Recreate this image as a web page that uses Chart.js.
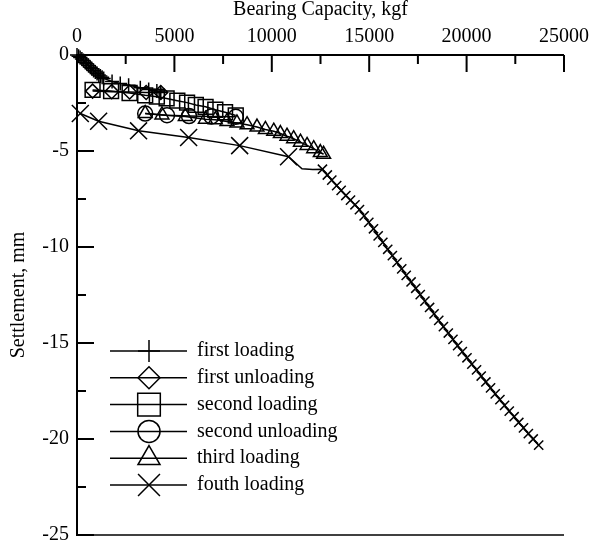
<!DOCTYPE html>
<html><head><meta charset="utf-8">
<script src="https://cdn.jsdelivr.net/npm/chart.js@4.4.0/dist/chart.umd.min.js"></script>
<style>html,body{margin:0;padding:0;background:#fff}canvas{display:block}</style>
</head><body>
<canvas id="c" width="607" height="553"></canvas>
<script>
// ---------- text ----------
const X_TITLE = 'Bearing Capacity, kgf';
const Y_TITLE = 'Settlement, mm';
const SERIES_LABELS = ['first loading', 'first unloading', 'second loading', 'second unloading', 'third loading', 'fouth loading'];

// ---------- ticks ----------
const X_MAJOR_TICKS = [0, 5000, 10000, 15000, 20000, 25000];
const X_MINOR_TICKS = [2500, 7500, 12500, 17500, 22500];
const Y_MAJOR_TICKS = [0, -5, -10, -15, -20, -25];
const Y_MINOR_TICKS = [-2.5, -7.5, -12.5, -17.5, -22.5];

// ---------- data (kgf, mm) ----------
const firstLoadingLoad   = [0, 80, 160, 250, 330, 420, 500, 590, 680, 760, 850, 940, 1030, 1120, 1200, 1290, 1370, 1800, 2220, 2650, 3250, 3680, 4100, 4300];
const firstLoadingSettle = [0, -0.06, -0.13, -0.21, -0.29, -0.38, -0.46, -0.55, -0.64, -0.72, -0.81, -0.89, -0.97, -1.04, -1.10, -1.16, -1.22, -1.38, -1.48, -1.57, -1.70, -1.80, -1.88, -1.95];

const firstUnloadingLoad   = [4300, 3550, 2700, 1780, 800];
const firstUnloadingSettle = [-1.95, -1.95, -1.93, -1.91, -1.88];

const secondLoadingLoad   = [800, 1750, 2700, 3500, 4100, 4600, 5150, 5650, 6100, 6600, 7100, 7600, 8150];
const secondLoadingSettle = [-1.82, -1.88, -1.98, -2.10, -2.17, -2.26, -2.38, -2.48, -2.60, -2.70, -2.85, -2.98, -3.15];

const secondUnloadingLoad   = [8150, 6900, 5750, 4620, 3500];
const secondUnloadingSettle = [-3.22, -3.20, -3.18, -3.14, -3.05];

const thirdLoadingLoad   = [3500, 4360, 5560, 6590, 7100, 7700, 8210, 8730, 9240, 9670, 10100, 10440, 10780, 11120, 11470, 11810, 12150, 12490, 12660];
const thirdLoadingSettle = [-3.05, -3.12, -3.20, -3.34, -3.37, -3.46, -3.54, -3.63, -3.75, -3.88, -3.97, -4.09, -4.23, -4.36, -4.54, -4.71, -4.88, -5.08, -5.17];

const fourthLoadingLoad = [170, 1110, 3160, 5730, 8350, 10860, 11550, 12100,
  12600, 12850, 13080, 13330, 13560, 13800, 14040, 14270, 14500, 14740, 14980, 15220, 15460, 15700, 15950, 16190,
  16430, 16670, 16900, 17150, 17390, 17620, 17860, 18100, 18330, 18570, 18810, 19060, 19300, 19540, 19780, 20020,
  20270, 20510, 20750, 20990, 21230, 21470, 21710, 21950, 22190, 22440, 22680, 22920, 23170, 23420, 23700];
const fourthLoadingSettle = [-3.05, -3.45, -3.95, -4.30, -4.72, -5.30, -5.93, -5.96,
  -5.95, -6.25, -6.52, -6.80, -7.05, -7.32, -7.56, -7.80, -8.05, -8.38, -8.72, -9.05, -9.42, -9.76, -10.12, -10.45,
  -10.80, -11.14, -11.48, -11.82, -12.15, -12.48, -12.82, -13.15, -13.48, -13.82, -14.15, -14.48, -14.81, -15.14, -15.45, -15.77,
  -16.10, -16.40, -16.72, -17.03, -17.34, -17.65, -17.95, -18.25, -18.55, -18.84, -19.14, -19.42, -19.72, -20.00, -20.32];
const FOURTH_LARGE_MARKER_COUNT = 6;
const FOURTH_UNMARKED_POINTS = [6, 7];

// ---------- styling ----------
const FONT_FAMILY = "'Liberation Serif', 'Times New Roman', Times, serif";
const POINT_STYLES = ['cross', 'rectRot', 'rect', 'circle', 'triangle', 'crossRot'];
const POINT_RADII = [7, 7, 10.5, 7.5, 8, 12];
const SMALL_CROSS_RADIUS = 6.5;
const LEGEND_RADII = [11, 11, 16, 11, 12.7, 15.5];

function pts(xs, ys) { return xs.map((x, i) => ({x: x, y: ys[i]})); }

const series = [
  pts(firstLoadingLoad, firstLoadingSettle),
  pts(firstUnloadingLoad, firstUnloadingSettle),
  pts(secondLoadingLoad, secondLoadingSettle),
  pts(secondUnloadingLoad, secondUnloadingSettle),
  pts(thirdLoadingLoad, thirdLoadingSettle),
  pts(fourthLoadingLoad, fourthLoadingSettle)
];

function fourthRadius(c) {
  if (c.dataIndex < FOURTH_LARGE_MARKER_COUNT) return POINT_RADII[5];
  if (FOURTH_UNMARKED_POINTS.includes(c.dataIndex)) return 0;
  return SMALL_CROSS_RADIUS;
}

const datasets = series.map((d, i) => ({
  label: SERIES_LABELS[i],
  data: d,
  showLine: true,
  borderColor: '#000',
  borderWidth: 1.5,
  backgroundColor: 'rgba(0,0,0,0)',
  pointStyle: POINT_STYLES[i],
  pointBorderColor: '#000',
  pointBackgroundColor: 'rgba(0,0,0,0)',
  pointBorderWidth: 1.5,
  pointRadius: i === 5 ? fourthRadius : POINT_RADII[i],
  pointHoverRadius: POINT_RADII[i],
  tension: 0,
  clip: false
}));

function drawMarker(ctx, style, x, y, r) {
  ctx.beginPath();
  if (style === 'cross') {
    ctx.moveTo(x, y - r); ctx.lineTo(x, y + r);
    ctx.moveTo(x - r, y); ctx.lineTo(x + r, y);
  } else if (style === 'crossRot') {
    const o = r * Math.SQRT1_2;
    ctx.moveTo(x - o, y - o); ctx.lineTo(x + o, y + o);
    ctx.moveTo(x + o, y - o); ctx.lineTo(x - o, y + o);
  } else if (style === 'rect') {
    const s = r * Math.SQRT1_2;
    ctx.rect(x - s, y - s, 2 * s, 2 * s);
  } else if (style === 'rectRot') {
    ctx.moveTo(x - r, y); ctx.lineTo(x, y - r); ctx.lineTo(x + r, y); ctx.lineTo(x, y + r); ctx.closePath();
  } else if (style === 'circle') {
    ctx.arc(x, y, r, 0, Math.PI * 2);
  } else if (style === 'triangle') {
    ctx.moveTo(x, y - r);
    ctx.lineTo(x + r * Math.sin(2 * Math.PI / 3), y - r * Math.cos(2 * Math.PI / 3));
    ctx.lineTo(x + r * Math.sin(4 * Math.PI / 3), y - r * Math.cos(4 * Math.PI / 3));
    ctx.closePath();
  }
  ctx.stroke();
}

const framePlugin = {
  id: 'frame',
  afterDraw(chart) {
    const {ctx, chartArea: a, scales: {x, y}} = chart;
    ctx.save();
    ctx.strokeStyle = '#000';
    ctx.lineCap = 'butt';
    ctx.lineWidth = 2;
    ctx.beginPath();
    ctx.moveTo(a.left, a.top); ctx.lineTo(a.right, a.top);
    ctx.moveTo(a.left, a.top - 1); ctx.lineTo(a.left, a.bottom + 1);
    ctx.stroke();
    ctx.lineWidth = 1.5;
    ctx.beginPath();
    ctx.moveTo(a.left, a.bottom); ctx.lineTo(a.right, a.bottom);
    ctx.stroke();
    ctx.lineWidth = 2;
    ctx.beginPath();
    X_MAJOR_TICKS.forEach(v => { const p = x.getPixelForValue(v); ctx.moveTo(p, a.top); ctx.lineTo(p, a.top + 17); });
    X_MINOR_TICKS.forEach(v => { const p = x.getPixelForValue(v); ctx.moveTo(p, a.top); ctx.lineTo(p, a.top + 9); });
    Y_MAJOR_TICKS.forEach(v => { const p = y.getPixelForValue(v); ctx.moveTo(a.left, p); ctx.lineTo(a.left + 17, p); });
    Y_MINOR_TICKS.forEach(v => { const p = y.getPixelForValue(v); ctx.moveTo(a.left, p); ctx.lineTo(a.left + 9, p); });
    ctx.stroke();

    // legend
    const rowY0 = 351, rowStep = 26.8;
    const lineX0 = 110, lineX1 = 187, markX = 149, textX = 197;
    ctx.font = '20px ' + FONT_FAMILY;
    ctx.fillStyle = '#000';
    ctx.textAlign = 'left';
    ctx.textBaseline = 'middle';
    SERIES_LABELS.forEach((lab, i) => {
      const ry = rowY0 + i * rowStep;
      ctx.lineWidth = 1.5;
      ctx.beginPath(); ctx.moveTo(lineX0, ry); ctx.lineTo(lineX1, ry); ctx.stroke();
      drawMarker(ctx, POINT_STYLES[i], markX, ry, LEGEND_RADII[i]);
      ctx.fillText(lab, textX, ry);
    });
    ctx.restore();
  }
};

new Chart(document.getElementById('c'), {
  type: 'scatter',
  data: {datasets: datasets},
  options: {
    responsive: false,
    animation: false,
    devicePixelRatio: 1,
    layout: {padding: {left: 0, top: 0, right: 43, bottom: 11}},
    plugins: {legend: {display: false}, tooltip: {enabled: false}},
    scales: {
      x: {
        type: 'linear', position: 'top', min: 0, max: 25000,
        afterFit: s => { s.height = 55; },
        afterBuildTicks: s => { s.ticks = X_MAJOR_TICKS.map(v => ({value: v})); },
        grid: {display: false, drawTicks: false},
        border: {display: false},
        ticks: {color: '#000', padding: 8, maxRotation: 0, autoSkip: false, callback: v => String(v), font: {family: FONT_FAMILY, size: 20, lineHeight: 1}},
        title: {display: true, text: X_TITLE, color: '#000', padding: {top: 0, bottom: 0}, font: {family: FONT_FAMILY, size: 20, lineHeight: 1}}
      },
      y: {
        type: 'linear', position: 'left', min: -25, max: 0,
        afterFit: s => { s.width = 77; },
        afterBuildTicks: s => { s.ticks = Y_MAJOR_TICKS.map(v => ({value: v})); },
        grid: {display: false, drawTicks: false},
        border: {display: false},
        ticks: {color: '#000', padding: 8, autoSkip: false, callback: v => String(v), font: {family: FONT_FAMILY, size: 20, lineHeight: 1}},
        title: {display: true, text: Y_TITLE, color: '#000', padding: {top: 9, bottom: 0}, font: {family: FONT_FAMILY, size: 20, lineHeight: 1}}
      }
    }
  },
  plugins: [framePlugin]
});
</script>
</body></html>
